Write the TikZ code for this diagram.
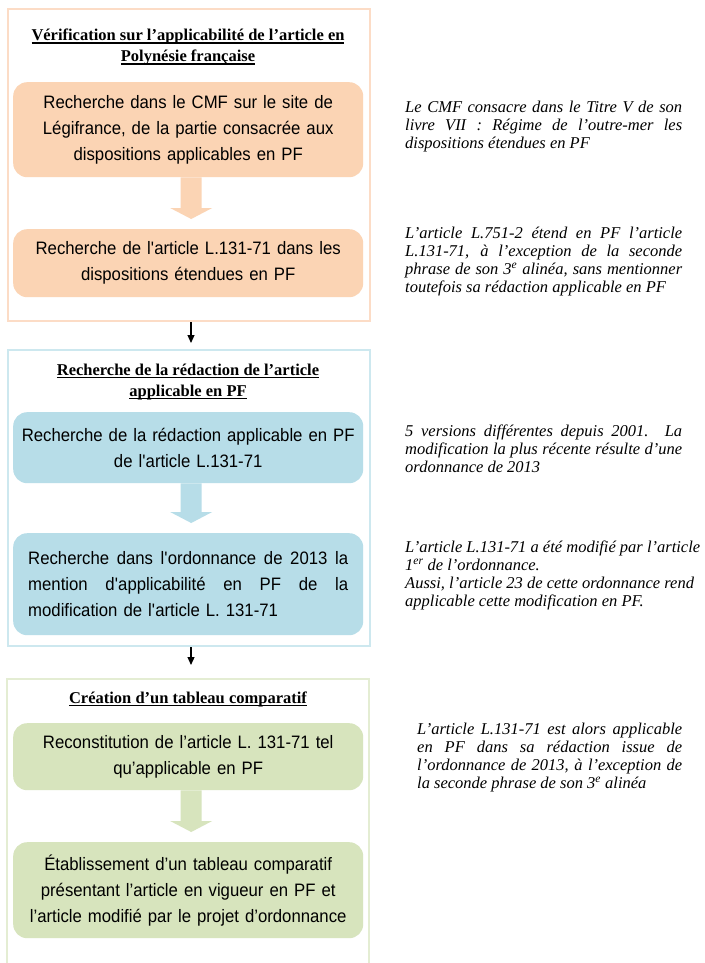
\documentclass[tikz,border=0pt]{standalone}
\usepackage{fontspec}
\setmainfont{Liberation Serif}
\newfontfamily\arialf[FakeStretch=0.93]{Liberation Sans}
\usetikzlibrary{calc,arrows.meta}
\definecolor{orfill}{HTML}{FBD4B4}
\definecolor{orline}{HTML}{FCDCC6}
\definecolor{blfill}{HTML}{B7DDE8}
\definecolor{blline}{HTML}{CDE8EF}
\definecolor{grfill}{HTML}{D7E4BD}
\definecolor{grline}{HTML}{E4EDD3}
\newcommand\myul[1]{\sbox0{#1}\rlap{\rule[-2.8pt]{\wd0}{1.3pt}}\usebox0}
\newcommand\jline[2]{\leavevmode\hbox to #1{\spaceskip=\fontdimen2\font plus 1fil\relax #2}}
\newcommand\sq{\textquotesingle}
\newcommand\blockarrow[3]{%
 \fill[#3] let \p1=(#1.south), \p2=(#2.north) in
 (\x1-7.5pt,\y1) -- (\x1+13.5pt,\y1) -- (\x1+13.5pt,\y2+21pt) -- (\x1+24pt,\y2+21pt)
 -- (\x1+3pt,\y2+10pt) -- (\x1-18pt,\y2+21pt) -- (\x1-7.5pt,\y2+21pt) -- cycle;}
\begin{document}
\begin{tikzpicture}[x=1pt,y=-1pt,
  frame/.style={line width=2pt},
  framebox/.style={frame, inner sep=0pt, minimum width=362pt, anchor=north west},
  box/.style={rounded corners=14pt, inner sep=0pt, minimum width=350pt, text width=340pt,
    align=center, anchor=north west, font=\arialf\fontsize{18}{26}\selectfont},
  title/.style={font=\bfseries\fontsize{16.5}{21}\selectfont, align=center, inner sep=0pt, anchor=north},
  note/.style={font=\itshape\fontsize{16.5}{18}\selectfont, align=left, inner sep=0pt, anchor=north west},
  smallarr/.style={line width=1.2pt, -{Triangle[length=8pt,width=7pt]}}]
\useasboundingbox (0,0) rectangle (704,963);
\fill[white] (0,0) rectangle (704,963);

% frames
\node[framebox, draw=orline, minimum height=312pt] (f1) at (7,8) {};
\node[framebox, draw=blline, minimum height=296pt] (f2) at (7,349) {};
\draw[frame, grline] (7,963) -- (7,679) -- (369,679) -- (369,963);

% titles
\node[title] (h1) at (188,29) {\myul{Vérification sur l’applicabilité de l’article en}\\\myul{Polynésie française}};
\node[title] (h2) at (188,363.5) {\myul{Recherche de la rédaction de l’article}\\\myul{applicable en PF}};
\node[title] (h3) at (188,691.5) {\myul{Création d’un tableau comparatif}};

% boxes
\node[box, fill=orfill, minimum height=95pt] (b1) at (13,82)
  {Recherche dans le CMF sur le site de\\Légifrance, de la partie consacrée aux\\dispositions applicables en PF};
\node[box, fill=orfill, minimum height=68pt] (b2) at (13,229)
  {Recherche de l\sq article L.131-71 dans les\\dispositions étendues en PF};
\node[box, fill=blfill, minimum height=71pt] (b3) at (13,412)
  {Recherche de la rédaction applicable en PF\\de l\sq article L.131-71};
\node[box, fill=blfill, minimum height=102pt, align=left, text width=320pt] (b4) at (13,533)
  {\jline{320pt}{Recherche dans l\sq ordonnance de 2013 la}\\
   \jline{320pt}{mention d\sq applicabilité en PF de la}\\
   modification de l\sq article L. 131-71};
\node[box, fill=grfill, minimum height=67pt] (b5) at (13,723)
  {Reconstitution de l’article L. 131-71 tel\\qu’applicable en PF};
\node[box, fill=grfill, minimum height=96pt] (b6) at (13,842)
  {Établissement d’un tableau comparatif\\présentant l’article en vigueur en PF et\\l’article modifié par le projet d’ordonnance};

% block arrows
\blockarrow{b1}{b2}{orfill}
\blockarrow{b3}{b4}{blfill}
\blockarrow{b5}{b6}{grfill}

% small arrows between frames
\coordinate (t1) at (191,343);
\coordinate (t2) at (191,665);
\draw[smallarr] (f1.south -| t1) -- (t1);
\draw[smallarr] (f2.south -| t2) -- (t2);

% notes
\node[note] (n1) at (405,101)
  {\jline{277pt}{Le CMF consacre dans le Titre V de son}\\
   \jline{277pt}{livre VII : Régime de l’outre-mer les}\\
   dispositions étendues en PF};
\node[note] (n2) at (405,227)
  {\jline{277pt}{L’article L.751-2 étend en PF l’article}\\
   \jline{277pt}{L.131-71, à l’exception de la seconde}\\
   \jline{277pt}{phrase de son 3\textsuperscript{e} alinéa, sans mentionner}\\
   toutefois sa rédaction applicable en PF};
\node[note] (n3) at (405,425)
  {\jline{277pt}{5 versions différentes depuis 2001. La}\\
   \jline{277pt}{modification la plus récente résulte d’une}\\
   ordonnance de 2013};
\node[note] (n4) at (405,541)
  {L’article L.131-71 a été modifié par l’article\\
   1\textsuperscript{er} de l’ordonnance.\\
   Aussi, l’article 23 de cette ordonnance rend\\
   applicable cette modification en PF.};
\node[note] (n5) at (417,723)
  {\jline{265pt}{L’article L.131-71 est alors applicable}\\
   \jline{265pt}{en PF dans sa rédaction issue de}\\
   \jline{265pt}{l’ordonnance de 2013, à l’exception de}\\
   la seconde phrase de son 3\textsuperscript{e} alinéa};
\end{tikzpicture}
\end{document}
